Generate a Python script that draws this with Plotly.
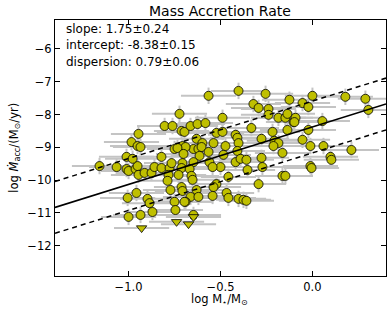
import plotly.graph_objects as go

# ---- data ----
log_mstar = [-1.158, -1.065, -1.011, -1.0, -0.962, -0.951, -0.946, -0.913, -0.875, -0.859,
             -0.821, -0.777, -0.766, -0.707, -0.712, -0.723, -0.804, -0.761, -0.712, -0.696,
             -0.663, -0.946, -0.984, -0.951, -0.750, -0.707, -0.647, -1.011, -0.978, -0.821,
             -0.565, -0.402, -0.255, -0.125, -0.321, -0.293, -0.239, -0.239, -0.185, -0.147,
             -0.136, -0.103, -0.489, -0.625, -0.582, -0.522, -0.489, -0.418, -0.332, -0.217,
             -0.136, -0.630, -0.598, -0.538, -0.408, -0.402, -0.277, -0.207, -0.185, -0.212,
             -0.163, -0.690, -0.620, -0.603, -0.565, -0.473, -0.484, -0.408, -0.614, -0.647,
             -0.560, -0.500, -0.418, -0.391, -0.359, -0.277, -0.272, 0.0, -0.054, -0.022,
             0.179, 0.288, 0.304, -0.092, -0.098, 0.054, -0.022, -0.054, -0.011, 0.060,
             0.212, 0.098, -0.011, -0.005, -0.668, -0.658, -0.652, -0.543, -0.353, -0.163,
             -0.457, -0.522, -0.538, -0.293, -0.630, -0.543, -0.467, -0.457, -0.663, -0.620,
             -0.690, -0.402, -0.375, -0.359, -0.647, 0.103, -0.147, -0.783, -0.788, -0.728,
             -0.772, -0.712, -0.707, -1.005, -0.957, -0.897, -0.886, -0.750, -0.696, -0.745,
             -0.870, -1.0, -0.935, -0.734, -0.701, -0.935]
log_macc = [-9.57, -9.60, -9.66, -9.72, -9.66, -9.57, -9.84, -9.78, -9.78, -9.60,
            -9.63, -9.63, -9.48, -9.48, -9.63, -7.98, -8.35, -8.35, -8.50, -8.53,
            -8.35, -8.59, -8.84, -8.96, -9.05, -8.96, -9.05, -9.29, -9.35, -9.29,
            -7.43, -7.28, -7.37, -7.55, -7.68, -7.80, -7.83, -8.01, -8.10, -8.10,
            -7.98, -8.23, -8.10, -8.29, -8.26, -8.56, -8.53, -8.62, -8.41, -8.53,
            -8.47, -8.74, -8.87, -8.87, -8.71, -8.87, -8.74, -8.80, -8.87, -8.96,
            -9.17, -8.99, -9.05, -8.99, -9.14, -8.96, -9.23, -9.11, -9.26, -9.45,
            -9.45, -9.60, -9.45, -9.35, -9.38, -9.32, -9.60, -7.43, -7.65, -7.77,
            -7.46, -7.52, -7.86, -8.10, -8.23, -8.20, -8.47, -8.77, -8.96, -8.96,
            -9.08, -9.29, -9.57, -9.63, -9.66, -9.87, -9.99, -9.60, -9.69, -9.87,
            -9.90, -10.12, -10.21, -10.12, -10.30, -10.48, -10.39, -10.54, -10.51, -10.51,
            -10.66, -10.57, -10.60, -10.63, -11.06, -9.38, -9.87, -9.84, -10.02, -9.84,
            -10.30, -10.21, -10.33, -10.54, -10.39, -10.57, -10.70, -10.66, -10.66, -10.91,
            -10.97, -11.12, -11.06, -9.02, -9.20, -8.99]
# upper limits (downward triangles)
lim_mstar = [-0.929, -0.739, -0.674, -0.647]
lim_macc = [-11.46, -11.27, -11.34, -11.12]

x_err = 0.15
y_err = 0.25

slope = 1.75
slope_err = 0.24
intercept = -8.38
intercept_err = 0.15
dispersion = 0.79
dispersion_err = 0.06

x_range = [-1.4, 0.4]
y_range = [-12.92, -5.12]
x_ticks = [-1.0, -0.5, 0.0]
x_tick_labels = ["\u22121.0", "\u22120.5", "0.0"]
y_ticks = [-12, -11, -10, -9, -8, -7, -6]
y_tick_labels = ["\u221212", "\u221211", "\u221210", "\u22129", "\u22128", "\u22127", "\u22126"]

fill = "#bfbf00"
errcol = "#c4c4c4"

fig = go.Figure()

fig.add_trace(go.Scatter(
    x=log_mstar, y=log_macc, mode="markers",
    marker=dict(symbol="circle", size=9, color=fill, line=dict(color="black", width=0.8)),
    error_x=dict(type="constant", value=x_err, color=errcol, thickness=2, width=0),
    error_y=dict(type="constant", value=y_err, color=errcol, thickness=2, width=0),
    showlegend=False))

fig.add_trace(go.Scatter(
    x=lim_mstar, y=lim_macc, mode="markers",
    marker=dict(symbol="triangle-down", size=9, color=fill, line=dict(color="black", width=0.8)),
    error_x=dict(type="constant", value=x_err, color=errcol, thickness=2, width=0),
    showlegend=False))

lx = x_range
ly = [intercept + slope * v for v in lx]
fig.add_trace(go.Scatter(x=lx, y=ly, mode="lines",
                         line=dict(color="black", width=1.5), showlegend=False))
fig.add_trace(go.Scatter(x=lx, y=[v + dispersion for v in ly], mode="lines",
                         line=dict(color="black", width=1.5, dash="5px,4px"), showlegend=False))
fig.add_trace(go.Scatter(x=lx, y=[v - dispersion for v in ly], mode="lines",
                         line=dict(color="black", width=1.5, dash="5px,4px"), showlegend=False))

font = "DejaVu Sans"
texts = [f"slope: {slope:.2f}\u00b1{slope_err:.2f}",
         f"intercept: {intercept:.2f}\u00b1{intercept_err:.2f}",
         f"dispersion: {dispersion:.2f}\u00b1{dispersion_err:.2f}"]
ys = [0.965, 0.901, 0.836]
for t, yy in zip(texts, ys):
    fig.add_annotation(text=t, xref="paper", yref="paper", x=0.027, y=yy,
                       xanchor="left", yanchor="middle", showarrow=False,
                       font=dict(family=font, size=12, color="black"))

# title and axis titles as annotations for exact placement
fig.add_annotation(text="Mass Accretion Rate", xref="paper", yref="paper", x=0.498, y=1.037,
                   xanchor="center", yanchor="middle", showarrow=False,
                   font=dict(family=font, size=14, color="black"))
fig.add_annotation(text="log M<sub>\u22c6</sub>/M<sub>\u2299</sub>", xref="paper", yref="paper",
                   x=0.498, y=-0.092, xanchor="center", yanchor="middle", showarrow=False,
                   font=dict(family=font, size=11.5, color="black"))
fig.add_annotation(text="log <i>\u1e40</i><sub>acc</sub>/(M<sub>\u2299</sub>/yr)", xref="paper",
                   yref="paper", x=-0.125, y=0.5, xanchor="center", yanchor="middle",
                   textangle=-90, showarrow=False,
                   font=dict(family=font, size=11.5, color="black"))

axis_common = dict(showgrid=False, zeroline=False, showline=True, linecolor="black",
                   linewidth=1.2, mirror="ticks", ticks="inside", ticklen=5, automargin=False,
                   tickcolor="black", tickfont=dict(family=font, size=11.5, color="black"))

fig.update_layout(
    width=391, height=316,
    margin=dict(l=55, r=5, t=20, b=40),
    paper_bgcolor="white", plot_bgcolor="white",
    xaxis=dict(range=x_range, tickvals=x_ticks, ticktext=x_tick_labels, **axis_common),
    yaxis=dict(range=y_range, tickvals=y_ticks, ticktext=y_tick_labels, **axis_common),
)

fig.write_html("out.html", config={"displayModeBar": False},
               post_script="document.body.style.margin='0';document.body.style.padding='0';")
